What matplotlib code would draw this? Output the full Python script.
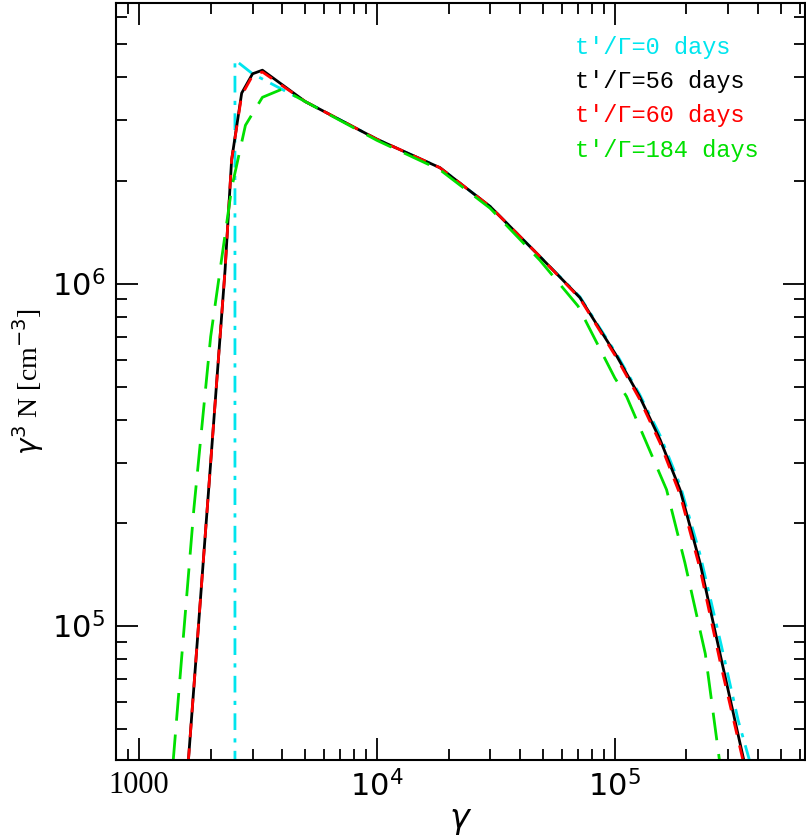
import matplotlib
matplotlib.use("Agg")
import matplotlib.pyplot as plt
from matplotlib.ticker import LogLocator, NullFormatter, FixedLocator, FixedFormatter

g0 = [2530, 2530, 3000, 5000, 1e4, 1.84e4, 2.99e4, 4.84e4, 7.13e4, 1.02e5, 1.27e5, 1.55e5, 1.88e5, 2.28e5, 2.8e5, 3.3e5, 3.7e5]
n0 = [3e4, 4.5e6, 4.1e6, 3.4e6, 2.64e6, 2.18e6, 1.68e6, 1.2e6, 9.15e5, 6.2e5, 4.75e5, 3.6e5, 2.58e5, 1.62e5, 8.8e4, 5.3e4, 4.0e4]

g56 = [1610, 2000, 2300, 2450, 2700, 3000, 3300, 5000, 1e4, 1.84e4, 2.99e4, 4.84e4, 7.13e4, 1.02e5, 1.27e5, 1.55e5, 1.88e5, 2.28e5, 2.8e5, 3.5e5]
n56 = [4e4, 3.0e5, 1.1e6, 2.3e6, 3.6e6, 4.1e6, 4.2e6, 3.4e6, 2.64e6, 2.18e6, 1.68e6, 1.2e6, 9.1e5, 6.13e5, 4.68e5, 3.5e5, 2.5e5, 1.53e5, 8.0e4, 4.0e4]

g60 = g56
n60 = [4e4, 3.0e5, 1.1e6, 2.3e6, 3.55e6, 4.05e6, 4.15e6, 3.4e6, 2.64e6, 2.18e6, 1.68e6, 1.2e6, 9.05e5, 6.05e5, 4.6e5, 3.42e5, 2.42e5, 1.47e5, 7.6e4, 3.9e4]

g184 = [1390, 1700, 2000, 2450, 2800, 3300, 4000, 5000, 1e4, 1.84e4, 2.99e4, 4.84e4, 7.0e4, 1.0e5, 1.12e5, 1.65e5, 1.97e5, 2.4e5, 2.76e5]
n184 = [4e4, 2.2e5, 7e5, 1.9e6, 2.9e6, 3.5e6, 3.7e6, 3.4e6, 2.62e6, 2.15e6, 1.66e6, 1.17e6, 8.6e5, 5.3e5, 4.68e5, 2.5e5, 1.53e5, 8.3e4, 4.0e4]

labels = ["t'/\u0393=0 days", "t'/\u0393=56 days", "t'/\u0393=60 days", "t'/\u0393=184 days"]
colors = ["#00e5ee", "black", "red", "#00e000"]

fig = plt.figure(figsize=(8.06, 8.38), dpi=100)
ax = fig.add_axes([116/806, 1-760/838, 689/806, 757/838])
ax.plot(g0, n0, color=colors[0], lw=2, ls=(0, (6, 3, 1.5, 3)))
ax.plot(g56, n56, color=colors[1], lw=2)
ax.plot(g60, n60, color=colors[2], lw=2, ls=(0, (5, 4)))
ax.plot(g184, n184, color=colors[3], lw=2, ls=(0, (10, 5)))
ax.set_xscale("log"); ax.set_yscale("log")
ax.set_xlim(800, 6.3e5); ax.set_ylim(4.06e4, 6.6e6)

ax.xaxis.set_major_locator(FixedLocator([1000, 1e4, 1e5]))
ax.xaxis.set_major_formatter(FixedFormatter(["1000", "$10^4$", "$10^5$"]))
ax.xaxis.set_minor_locator(LogLocator(subs=range(2, 10)))
ax.xaxis.set_minor_formatter(NullFormatter())
ax.yaxis.set_major_locator(FixedLocator([1e5, 1e6]))
ax.yaxis.set_major_formatter(FixedFormatter(["$10^5$", "$10^6$"]))
ax.yaxis.set_minor_locator(LogLocator(subs=range(2, 10)))
ax.yaxis.set_minor_formatter(NullFormatter())
ax.tick_params(which="both", direction="in", top=True, right=True, width=1.3)
ax.tick_params(which="major", length=16, labelsize=22, pad=8)
ax.tick_params(which="minor", length=8)
for s in ax.spines.values():
    s.set_linewidth(1.5)
plt.rcParams["mathtext.fontset"] = "stix"
for t in ax.get_xticklabels() + ax.get_yticklabels():
    t.set_fontfamily("Liberation Serif")
ax.set_xlabel(r"$\gamma$", fontsize=24, labelpad=0)
ax.set_ylabel(r"$\gamma^3$ N [cm$^{-3}$]", fontsize=20, family="Liberation Serif", labelpad=4)

for i, (lab, c) in enumerate(zip(labels, colors)):
    ax.text((575-116)/689, (760-48)/757 - i*(34/757), lab, color=c, fontsize=17, family="Liberation Mono",
            transform=ax.transAxes, ha="left", va="center")
fig.savefig("out.png", dpi=100)
